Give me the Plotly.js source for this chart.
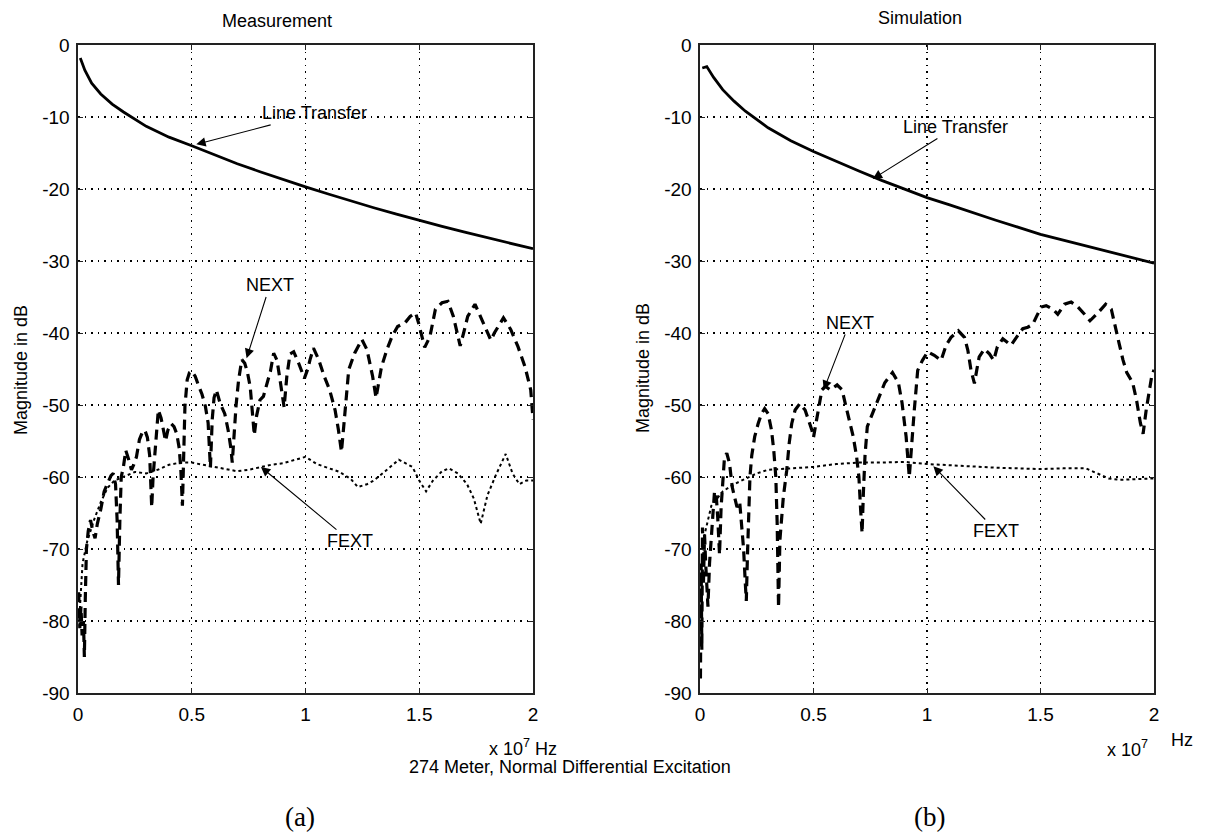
<!DOCTYPE html>
<html>
<head>
<meta charset="utf-8">
<script src="https://cdn.plot.ly/plotly-3.0.1.min.js"></script>
<style>
  html, body { margin: 0; padding: 0; background: #fff; }
  #chart { width: 1206px; height: 837px; }
</style>
</head>
<body>
<div id="chart"></div>
<script>
// Frequency in units of 1e7 Hz, magnitude in dB

// ---- (a) Measurement ----
const measLineX = [0.01,0.03,0.06,0.1,0.15,0.2,0.3,0.4,0.5,0.6,0.7,0.8,0.9,1.0,1.1,1.2,1.3,1.4,1.5,1.6,1.7,1.8,1.9,2.0];
const measLineY = [-1.8,-3.5,-5.3,-6.8,-8.2,-9.3,-11.3,-12.8,-14.0,-15.3,-16.5,-17.6,-18.7,-19.7,-20.7,-21.7,-22.6,-23.5,-24.4,-25.2,-26.0,-26.8,-27.5,-28.3];

const measNextX = [0.003,0.008,0.013,0.018,0.024,0.028,0.032,0.037,0.045,0.055,0.065,0.075,0.085,0.1,0.115,0.13,0.145,0.155,0.165,0.172,0.178,0.184,0.19,0.2,0.21,0.222,0.235,0.245,0.257,0.27,0.283,0.294,0.305,0.315,0.324,0.33,0.338,0.346,0.353,0.365,0.375,0.385,0.395,0.41,0.422,0.434,0.445,0.452,0.459,0.465,0.47,0.48,0.49,0.5,0.515,0.53,0.545,0.56,0.572,0.582,0.59,0.598,0.608,0.625,0.645,0.66,0.672,0.678,0.686,0.695,0.706,0.72,0.733,0.745,0.757,0.766,0.775,0.785,0.8,0.815,0.83,0.846,0.86,0.875,0.888,0.897,0.906,0.918,0.932,0.948,0.97,0.995,1.01,1.02,1.035,1.058,1.082,1.106,1.13,1.145,1.158,1.168,1.177,1.19,1.216,1.248,1.27,1.295,1.31,1.322,1.334,1.358,1.38,1.405,1.437,1.46,1.484,1.496,1.508,1.524,1.547,1.571,1.6,1.626,1.65,1.668,1.68,1.695,1.713,1.745,1.776,1.8,1.815,1.83,1.847,1.87,1.902,1.934,1.965,1.99,2.0];
const measNextY = [-76,-81,-78,-82,-80,-85,-77,-70,-67.5,-66,-67.5,-68.5,-66.5,-64.5,-62,-60.8,-59.8,-59.5,-61,-66,-75,-66,-60,-58.5,-56.3,-57.5,-59,-58.3,-57.2,-54.8,-53.8,-53.5,-54.5,-57,-64.2,-60,-56.7,-52.5,-50.7,-51.8,-53.5,-55,-53.5,-52.6,-53,-54,-56,-59,-64,-56,-50.2,-46.5,-45.5,-45.3,-46,-47.3,-48.5,-50.2,-52.5,-58.7,-52,-49,-47.9,-49.8,-51.2,-53.5,-56,-58,-54,-50,-46.5,-43.7,-44.2,-45.5,-47.5,-51,-54.2,-51.5,-49.3,-48.8,-47,-45.3,-42.8,-43.8,-46.5,-48.8,-50.3,-46,-42.9,-42.6,-44.2,-46.3,-45,-43.7,-42.1,-43.7,-46,-47.9,-50.7,-53.5,-56.5,-53,-49.8,-45.1,-42.8,-40.9,-42.3,-46,-49,-46.8,-44.7,-42.3,-40.5,-39.1,-38.6,-37.7,-37.2,-38.5,-40,-42,-40.5,-36.7,-35.8,-35.6,-37.7,-40,-41.8,-40,-37.7,-36,-38.1,-39.8,-41,-40,-39.1,-37.9,-39.5,-41.9,-44.7,-47.9,-52];

const measFextX = [0.005,0.02,0.04,0.07,0.1,0.13,0.16,0.2,0.25,0.3,0.35,0.4,0.45,0.5,0.55,0.6,0.65,0.7,0.75,0.8,0.85,0.9,0.95,1.0,1.05,1.1,1.15,1.2,1.23,1.27,1.3,1.35,1.41,1.47,1.5,1.53,1.56,1.6,1.63,1.67,1.71,1.74,1.77,1.8,1.84,1.88,1.91,1.94,1.97,2.0];
const measFextY = [-80,-72,-69,-66,-63.5,-61.5,-60.5,-60,-59.3,-59.5,-59,-58.3,-58,-58,-58.3,-58.6,-59,-59.2,-59,-58.6,-58.3,-58.1,-57.6,-57.2,-58.2,-58.8,-59.3,-60.3,-61.4,-61,-60.5,-59.2,-57.6,-58.6,-60.5,-62,-60.5,-59.2,-58.8,-59.5,-61,-63,-66.5,-62.5,-59.5,-56.8,-59.5,-61,-60.5,-60.5];

// ---- (b) Simulation ----
const simLineX = [0.01,0.03,0.06,0.1,0.15,0.2,0.3,0.4,0.5,0.6,0.7,0.8,0.9,1.0,1.1,1.2,1.3,1.4,1.5,1.6,1.7,1.8,1.9,2.0];
const simLineY = [-3.2,-3.0,-4.5,-6.2,-7.8,-9.2,-11.5,-13.3,-14.8,-16.2,-17.5,-18.8,-20.0,-21.2,-22.2,-23.3,-24.3,-25.3,-26.3,-27.1,-27.9,-28.7,-29.5,-30.3];

const simNextX = [0.002,0.005,0.008,0.011,0.015,0.02,0.025,0.03,0.035,0.042,0.049,0.056,0.064,0.071,0.078,0.086,0.093,0.1,0.108,0.118,0.13,0.142,0.152,0.163,0.175,0.182,0.192,0.2,0.204,0.209,0.214,0.22,0.228,0.241,0.256,0.271,0.285,0.3,0.315,0.325,0.334,0.34,0.346,0.352,0.367,0.382,0.393,0.404,0.419,0.44,0.463,0.478,0.493,0.5,0.515,0.527,0.537,0.552,0.574,0.604,0.626,0.643,0.66,0.675,0.69,0.7,0.707,0.714,0.72,0.727,0.737,0.754,0.77,0.788,0.814,0.848,0.874,0.89,0.908,0.922,0.932,0.944,0.959,0.98,1.003,1.032,1.062,1.084,1.106,1.138,1.165,1.18,1.194,1.209,1.22,1.23,1.253,1.275,1.294,1.31,1.334,1.356,1.37,1.394,1.422,1.444,1.466,1.481,1.503,1.525,1.554,1.576,1.606,1.635,1.665,1.694,1.718,1.753,1.787,1.812,1.83,1.846,1.863,1.88,1.906,1.923,1.94,1.952,1.966,1.975,1.99,2.0];
const simNextY = [-88,-72,-84,-67,-75,-68,-72,-76,-78,-72,-69.3,-65.6,-62,-62.3,-65.6,-70.8,-64.2,-60,-57.2,-56.7,-58.1,-61.4,-62.8,-64.2,-63.5,-66.5,-70,-75,-77.2,-71,-64,-60,-57,-54.4,-52.6,-51.2,-50.5,-51.2,-53.5,-56.3,-60,-66.5,-78.1,-68.8,-62.8,-59.1,-55.3,-52.6,-50.7,-49.8,-50.7,-52.1,-53.5,-54.5,-51.6,-49.8,-47.9,-47.4,-47.9,-47.2,-47.9,-50.2,-52.6,-54.4,-57.2,-60,-64.2,-67.8,-62,-57,-53,-51.6,-50.5,-48.8,-46.9,-45.5,-46.9,-49.7,-54.4,-60,-55,-50.7,-45.2,-43.8,-42.6,-43.1,-43.8,-41.7,-40.6,-39.7,-40.6,-42.4,-45.2,-47,-45,-43.3,-42.2,-42.9,-43.8,-41.9,-40.8,-41.3,-41.7,-40.6,-39.4,-39.2,-38.8,-37.8,-36.4,-36.2,-36.7,-37.4,-36,-35.7,-36.4,-37.4,-38.3,-37.2,-36,-36.7,-39,-41.4,-43.7,-45.5,-46.9,-49.3,-52.5,-54,-50.6,-48.8,-46,-45.1];

const simFextX = [0.005,0.02,0.05,0.1,0.15,0.2,0.25,0.3,0.4,0.5,0.6,0.7,0.8,0.9,1.0,1.1,1.2,1.3,1.4,1.5,1.6,1.7,1.75,1.8,1.85,1.9,1.95,2.0];
const simFextY = [-75,-68,-64,-62,-61,-60.3,-59.5,-59,-58.8,-58.6,-58.2,-58,-58,-57.9,-58.2,-58.4,-58.5,-58.7,-58.8,-58.9,-58.8,-58.8,-59.5,-60.2,-60.4,-60.3,-60.3,-60.2];

// tick labels
const xTickVals = [0, 0.5, 1, 1.5, 2];
const xTickText = ['0', '0.5', '1', '1.5', '2'];
const yTickVals = [0, -10, -20, -30, -40, -50, -60, -70, -80, -90];
const yTickText = ['0', '-10', '-20', '-30', '-40', '-50', '-60', '-70', '-80', '-90'];

const W = 1206, H = 837;
const FONT = 'Arial, "Liberation Sans", sans-serif';
const px = v => v / W;
const py = v => 1 - v / H;

function line(x, y, xa, ya, width, dash) {
  return { x: x, y: y, xaxis: xa, yaxis: ya, type: 'scatter', mode: 'lines',
    line: { color: '#000', width: width, dash: dash }, showlegend: false, hoverinfo: 'skip' };
}

const data = [
  line(measLineX, measLineY, 'x', 'y', 2.8, 'solid'),
  line(measFextX, measFextY, 'x', 'y', 2, 'dot'),
  line(measNextX, measNextY, 'x', 'y', 3.2, '10px,6px'),
  line(simLineX, simLineY, 'x2', 'y2', 2.8, 'solid'),
  line(simFextX, simFextY, 'x2', 'y2', 2, 'dot'),
  line(simNextX, simNextY, 'x2', 'y2', 3.2, '10px,6px')
];

function xax(domain, anchor) {
  return { domain: domain, anchor: anchor, range: [0, 2], tickvals: xTickVals, ticktext: xTickText,
    showgrid: true, gridcolor: '#000', griddash: '1.5px,5px', gridwidth: 1.2,
    showline: true, linecolor: '#222', linewidth: 1.6, mirror: 'ticks',
    ticks: 'inside', ticklen: 5, tickcolor: '#222', zeroline: false,
    tickfont: { family: FONT, size: 19, color: '#000' }, ticklabelstandoff: 4, fixedrange: true };
}
function yax(domain, anchor) {
  return { domain: domain, anchor: anchor, range: [-90, 0], tickvals: yTickVals, ticktext: yTickText,
    showgrid: true, gridcolor: '#000', griddash: '1.5px,5px', gridwidth: 1.2,
    showline: true, linecolor: '#222', linewidth: 1.6, mirror: 'ticks',
    ticks: 'inside', ticklen: 5, tickcolor: '#222', zeroline: false,
    tickfont: { family: FONT, size: 19, color: '#000' }, ticklabelstandoff: 3, fixedrange: true };
}

const yDom = [1 - 693 / H, 1 - 45 / H];

function arrowNote(xr, yr, tipX, tipY, txtX, txtY, text) {
  return { xref: xr, yref: yr, axref: xr, ayref: yr, x: tipX, y: tipY, ax: txtX, ay: txtY,
    text: text, showarrow: true, arrowhead: 2, arrowsize: 1.7, arrowwidth: 1.1, arrowcolor: '#000',
    standoff: 0, font: { family: FONT, size: 18, color: '#000' } };
}
function paperText(x, y, text, size, family, extra) {
  return Object.assign({ xref: 'paper', yref: 'paper', x: px(x), y: py(y), text: text, showarrow: false,
    xanchor: 'center', yanchor: 'middle', font: { family: family || FONT, size: size, color: '#000' } }, extra || {});
}

const annotations = [
  arrowNote('x', 'y', 0.52, -13.8, 1.04, -9.5, 'Line Transfer'),
  arrowNote('x', 'y', 0.741, -43.5, 0.843, -33.4, 'NEXT'),
  arrowNote('x', 'y', 0.804, -58.6, 1.197, -68.9, 'FEXT'),
  arrowNote('x2', 'y2', 0.761, -18.6, 1.127, -11.4, 'Line Transfer'),
  arrowNote('x2', 'y2', 0.545, -47.9, 0.659, -38.6, 'NEXT'),
  arrowNote('x2', 'y2', 1.028, -58.5, 1.306, -67.5, 'FEXT'),
  paperText(277, 21, 'Measurement', 18),
  paperText(920, 18, 'Simulation', 18),
  paperText(21, 370, 'Magnitude in dB', 18, null, { textangle: -90 }),
  paperText(643, 368, 'Magnitude in dB', 18, null, { textangle: -90 }),
  paperText(523, 747, 'x 10<sup>7</sup> Hz', 18),
  paperText(570, 767, '274 Meter, Normal Differential Excitation', 18),
  paperText(1127, 748, 'x 10<sup>7</sup>', 18),
  paperText(1182, 740, 'Hz', 18),
  paperText(300, 817, '(a)', 27, '"Liberation Serif", "Times New Roman", serif'),
  paperText(929, 817, '(b)', 27, '"Liberation Serif", "Times New Roman", serif')
];

const layout = {
  width: W, height: H,
  margin: { l: 0, r: 0, t: 0, b: 0 },
  paper_bgcolor: '#fff', plot_bgcolor: '#fff',
  showlegend: false,
  xaxis: xax([78 / W, 533 / W], 'y'),
  yaxis: yax(yDom, 'x'),
  xaxis2: xax([700 / W, 1154 / W], 'y2'),
  yaxis2: yax(yDom, 'x2'),
  annotations: annotations,
  font: { family: FONT, color: '#000' }
};

Plotly.newPlot('chart', data, layout, { staticPlot: true, displayModeBar: false });
</script>
</body>
</html>
